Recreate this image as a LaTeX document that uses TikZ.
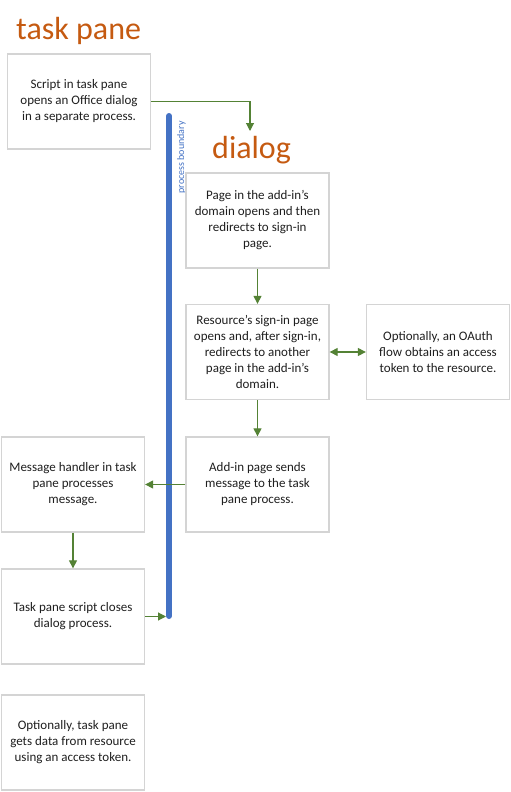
\documentclass[tikz,border=0pt]{standalone}
\usepackage{fontspec}
\setmainfont{Carlito}
\usepackage{tikz}
\usetikzlibrary{arrows.meta,calc,positioning}
\definecolor{titlecol}{HTML}{C55A11}
\definecolor{arrowcol}{HTML}{548235}
\definecolor{barcol}{HTML}{4472C4}
\definecolor{boxline}{HTML}{D4D4D4}
\tikzset{
    mybox/.style={draw=boxline,line width=1.3pt,fill=white,minimum width=143pt,minimum height=95pt,
        align=center,inner sep=0pt,font=\fontsize{13}{16}\selectfont,text=black!88},
    mytitle/.style={anchor=west,inner sep=0pt,text=titlecol,font=\fontsize{32}{34}\selectfont},
    myarrow/.style={draw=arrowcol,line width=1.1pt,-{Triangle[length=8pt,width=8pt]}},
    mybar/.style={draw=barcol,line width=6pt,line cap=round}
}
\begin{document}
\begin{tikzpicture}[x=1pt,y=-1pt]
  \useasboundingbox (0,0) rectangle (511,792);

  % titles
  \node[mytitle] (T0) at (16,31) {task pane};
  \node[mytitle] (T1) at (212,150) {dialog};

  % process boundary
  \coordinate (P0) at (169,116);
  \coordinate (P1) at (169,616);
  \draw[mybar] (P0) -- (P1);
  \node[rotate=90,anchor=east,inner sep=0pt,text=barcol,font=\fontsize{10}{11}\selectfont] (PB) at (181.5,121) {process boundary};

  % boxes
  \node[mybox] (B1) at (79,101.5) {Script in task pane\\opens an Office dialog\\in a separate process.};
  \node[mybox] (B2) at (257.5,220.5) {Page in the add-in’s\\domain opens and then\\redirects to sign-in\\page.};
  \node[mybox] (B3) at (257.5,352) {Resource’s sign-in page\\opens and, after sign-in,\\redirects to another\\page in the add-in’s\\domain.};
  \node[mybox] (B4) at (438,352) {Optionally, an OAuth\\flow obtains an access\\token to the resource.};
  \node[mybox] (B5) at (257.5,484.5) {Add-in page sends\\message to the task\\pane process.};
  \node[mybox] (B6) at (73,484.5) {Message handler in task\\pane processes\\message.};
  \node[mybox] (B7) at (73,616.5) {Task pane script closes\\dialog process.};
  \node[mybox] (B8) at (73,742.5) {Optionally, task pane\\gets data from resource\\using an access token.};

  % connectors
  \coordinate (D0) at (250,131);
  \draw[myarrow] (B1.east) -| (D0);
  \draw[myarrow] (B2) -- (B3);
  \draw[myarrow,{Triangle[length=8pt,width=8pt]}-{Triangle[length=8pt,width=8pt]}] (B3) -- (B4);
  \draw[myarrow] (B3) -- (B5);
  \draw[myarrow] (B5) -- (B6);
  \draw[myarrow] (B6) -- (B7);
  \coordinate (D1) at (166,616.5);
  \draw[myarrow] (B7.east) -- (D1);
\end{tikzpicture}
\end{document}
